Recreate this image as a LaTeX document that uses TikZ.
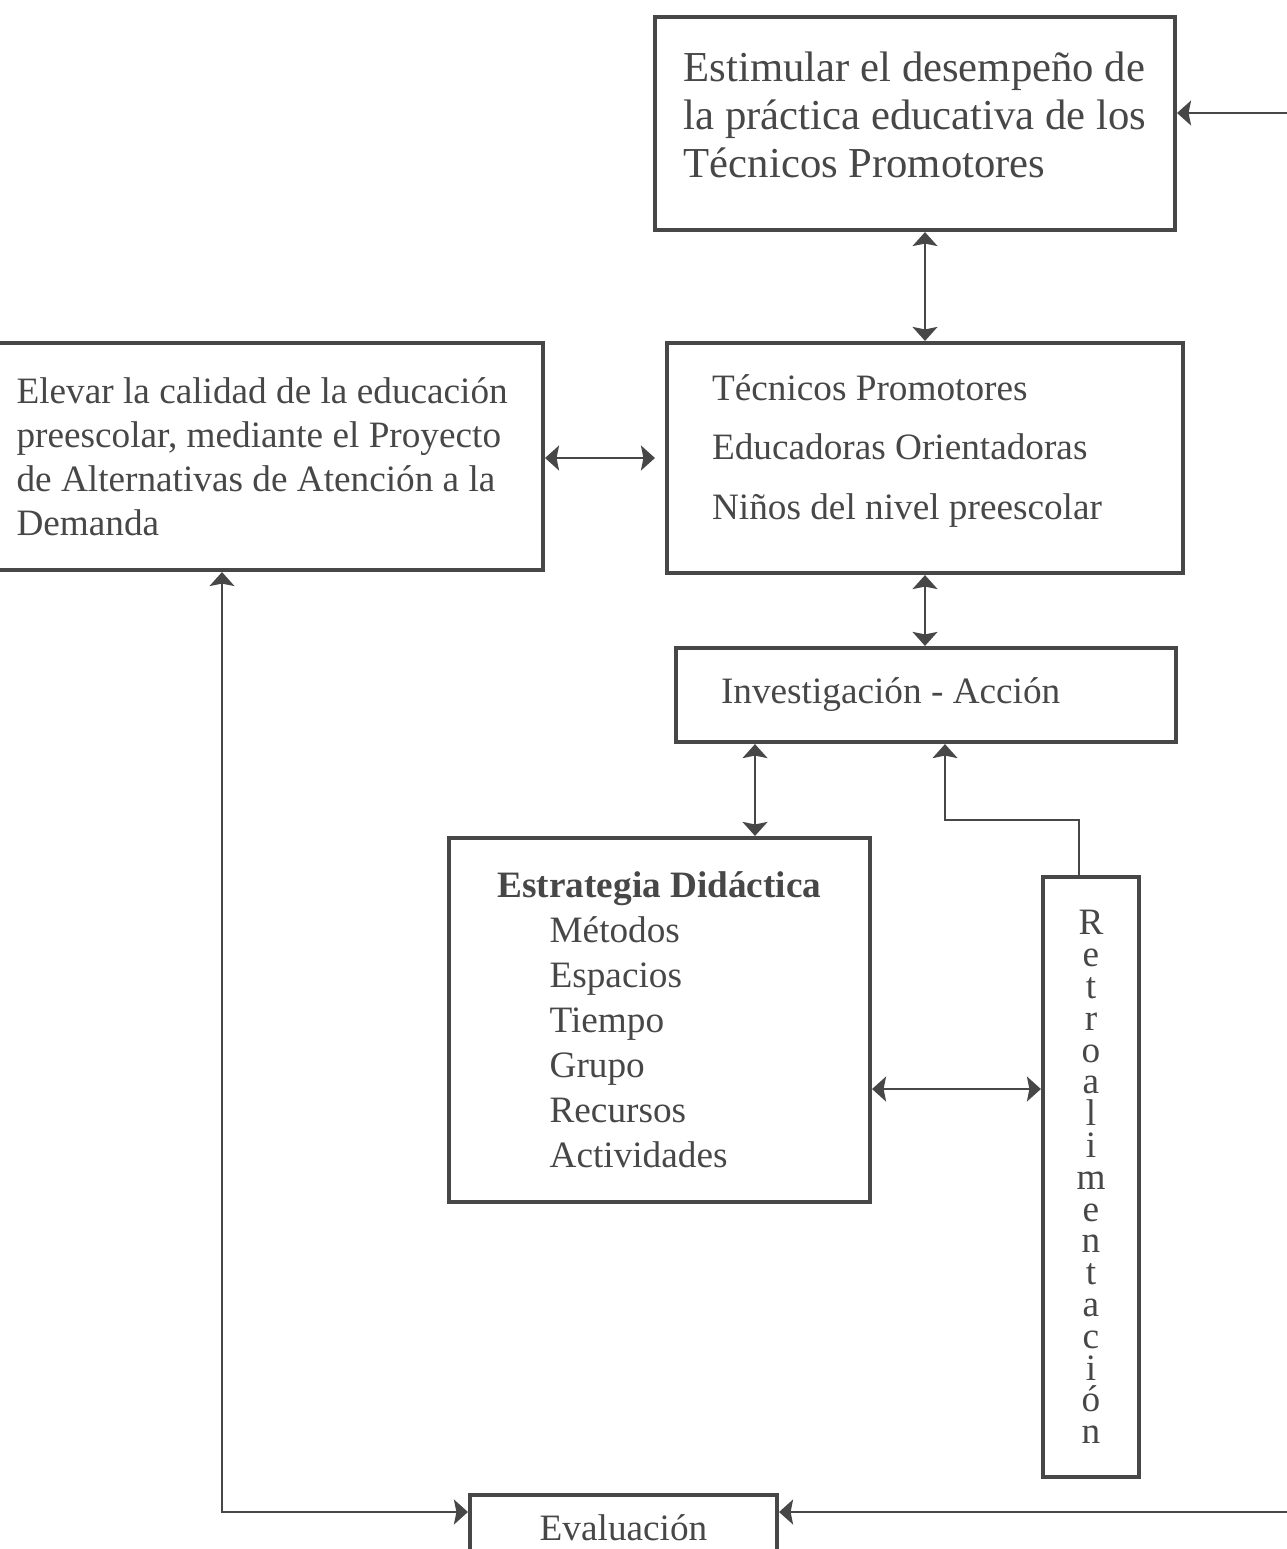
\documentclass[tikz,border=0pt]{standalone}
\usepackage{fontspec}
\setmainfont{Liberation Serif}
\usepackage{tikz}
\usetikzlibrary{arrows.meta, calc, positioning}
\definecolor{inkGray}{gray}{0.28}
\tikzset{
    boxThick/.style={rectangle, draw=inkGray, line width=2.4pt, inner sep=0pt, text=inkGray},
    arrTip/.style={>={Stealth[length=2.8mm, width=5mm, inset=0.5mm]}, draw=inkGray, line width=1.1pt},
    linkEdge/.style={arrTip, <->},
    linkOne/.style={arrTip, ->},
}
\newcommand{\fontBig}{\fontsize{24.3}{27.3}\selectfont}
\newcommand{\fontMid}[1]{\fontsize{21.2}{#1}\selectfont}
\newcommand{\fontRetro}{\fontsize{21.2}{18.1}\selectfont\lineskiplimit=-100pt\relax}

\begin{document}
\begin{tikzpicture}[x=0.02cm, y=-0.02cm]
    \useasboundingbox (0,0) rectangle (1287,1549);
    \clip (0,0) rectangle (1287,1549);

    % boxes
    \node[boxThick, minimum width=10.4cm, minimum height=4.26cm, align=left, font=\fontBig] (meta) at (915,123.5)
        {Estimular el desempeño de\\la práctica educativa de los\\Técnicos Promotores\\[-0.6cm]};
    \node[boxThick, minimum width=10.32cm, minimum height=4.6cm, text width=8.52cm, align=flush left, font=\fontMid{34.1}] (grupo) at (925,458)
        {Técnicos Promotores\\Educadoras Orientadoras\\Niños del nivel preescolar\par\vspace*{0.28cm}};
    \node[boxThick, minimum width=11.06cm, minimum height=4.54cm, text width=10cm, align=flush left, font=\fontMid{25}] (fin) at (266.5,456.5)
        {Elevar la calidad de la educación\\preescolar, mediante el Proyecto\\de Alternativas de Atención a la\\Demanda};
    \node[boxThick, minimum width=10cm, minimum height=1.88cm, text width=8.2cm, align=flush left, font=\fontMid{25}] (inv) at (926,695)
        {Investigación - Acción};
    \node[boxThick, minimum width=8.42cm, minimum height=7.28cm, align=left, font=\fontMid{25.6}] (estr) at (659.5,1020)
        {\textbf{Estrategia Didáctica}\\\hspace*{1.04cm}Métodos\\\hspace*{1.04cm}Espacios\\\hspace*{1.04cm}Tiempo\\\hspace*{1.04cm}Grupo\\\hspace*{1.04cm}Recursos\\\hspace*{1.04cm}Actividades};
    \node[boxThick, minimum width=1.92cm, minimum height=12cm, align=center, font=\fontRetro] (retro) at (1091,1177)
        {R\\e\\t\\r\\o\\a\\l\\i\\m\\e\\n\\t\\a\\c\\i\\ó\\n};
    \node[boxThick, minimum width=6.14cm, minimum height=1.3cm, font=\fontMid{25}] (eval) at (623.5,1527.5) {Evaluación};

    % bends
    \coordinate (ie) at (755,0);
    \coordinate (fbA) at (1079,820);
    \coordinate (fbB) at (945,820);
    \coordinate (er) at (0,1089);
    \coordinate (lc) at (222,1512);
    \coordinate (rcA) at (1310,1512);
    \coordinate (rcB) at (1310,113);

    % links
    \draw[linkEdge] (meta.south -| grupo.north) -- (grupo.north);
    \draw[linkEdge, shorten >=0.2cm] (fin.east |- grupo.west) -- (grupo.west);
    \draw[linkEdge] (grupo.south) -- (grupo.south |- inv.north);
    \draw[linkEdge] (inv.south -| ie) -- (estr.north -| ie);
    \draw[linkOne] (retro.north -| fbA) -- (fbA) -- (fbB) -- (inv.south -| fbB);
    \draw[linkEdge] (estr.east |- er) -- (retro.west |- er);
    \draw[linkEdge] (fin.south -| lc) -- (lc) -- (eval.west |- lc);
    \draw[linkEdge] (eval.east |- rcA) -- (rcA) -- (rcB) -- (meta.east |- rcB);
\end{tikzpicture}
\end{document}
